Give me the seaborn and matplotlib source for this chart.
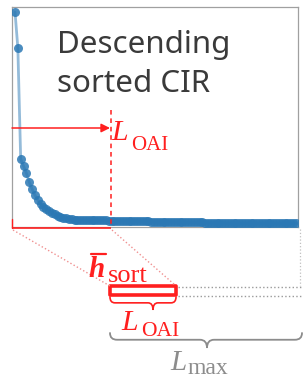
import numpy as np
import pandas as pd
import matplotlib
matplotlib.use("Agg")
import matplotlib.pyplot as plt
from matplotlib.path import Path
from matplotlib.patches import PathPatch, Rectangle
import seaborn as sns

# ---- data: descending sorted CIR magnitudes ----
tap_index = list(range(100))
cir_values = [
    0.977, 0.814, 0.309, 0.277, 0.245, 0.205, 0.173, 0.145, 0.123, 0.105,
    0.091, 0.082, 0.073, 0.064, 0.057, 0.050, 0.045, 0.041, 0.039, 0.036,
    0.035, 0.034, 0.034, 0.033, 0.033, 0.032, 0.032, 0.031, 0.031, 0.031,
    0.030, 0.030, 0.030, 0.029, 0.029, 0.029, 0.028, 0.028, 0.028, 0.028,
    0.027, 0.027, 0.027, 0.027, 0.026, 0.026, 0.026, 0.026, 0.025, 0.025,
    0.025, 0.025, 0.025, 0.024, 0.024, 0.024, 0.024, 0.023, 0.023, 0.023,
    0.022, 0.022, 0.022, 0.021, 0.021, 0.021, 0.021, 0.020, 0.020, 0.020,
    0.020, 0.019, 0.019, 0.019, 0.019, 0.018, 0.018, 0.018, 0.018, 0.018,
    0.017, 0.017, 0.017, 0.017, 0.017, 0.017, 0.017, 0.017, 0.017, 0.017,
    0.016, 0.016, 0.016, 0.016, 0.016, 0.016, 0.016, 0.016, 0.016, 0.016,
]
title_lines = ["Descending", "sorted CIR"]

df = pd.DataFrame({"tap": tap_index, "cir": cir_values})

sns.set_style("white")
plt.rcParams["font.family"] = ["Noto Sans", "DejaVu Sans"]

W, H = 303, 377
fig = plt.figure(figsize=(W / 100, H / 100), dpi=100)

# main chart axes (pixel box: x 12..298, y 7..227)
L, T, R, B = 12, 7, 298, 227
ax = fig.add_axes([L / W, 1 - B / H, (R - L) / W, (B - T) / H])
blue = "#2b78b4"
sns.lineplot(data=df, x="tap", y="cir", ax=ax, color=blue, lw=2.0, alpha=0.5)
sns.scatterplot(data=df, x="tap", y="cir", ax=ax, color=blue, s=42,
                linewidth=0, alpha=0.85, zorder=3)
ax.set_xlim(-1.06, 99.7)
ax.set_ylim(0, 1)
ax.set_xticks([]); ax.set_yticks([])
ax.set_xlabel(""); ax.set_ylabel("")
for sp in ax.spines.values():
    sp.set_visible(True)
    sp.set_color("#a0a0a0")
    sp.set_linewidth(0.9)

# overlay axes in pixel coordinates for the diagram annotations
ov = fig.add_axes([0, 0, 1, 1], zorder=5)
ov.set_xlim(0, W); ov.set_ylim(H, 0)
ov.axis("off")
ov.patch.set_alpha(0)

red = "#ff1f1f"
lred = "#f09090"
gray = "#8c8c8c"

# title text
ov.text(57, 53.5, title_lines[0], fontsize=22.5, color="#3a3a3a",
        family=["Noto Sans", "DejaVu Sans"], va="baseline", ha="left")
ov.text(57, 92.5, title_lines[1], fontsize=22.5, color="#3a3a3a",
        family=["Noto Sans", "DejaVu Sans"], va="baseline", ha="left")

# L_OAI marker inside chart
ov.plot([111, 111], [110, 227], color=red, lw=1.1, dashes=(3, 2.5))
ov.annotate("", xy=(110, 128), xytext=(12, 128),
            arrowprops=dict(arrowstyle="-|>", color=red, lw=1.1,
                            mutation_scale=13, shrinkA=0, shrinkB=0))
ov.text(111, 140, "L", fontsize=21.5, style="italic", color=red,
        family="Liberation Serif", va="baseline")
ov.text(131, 150, "OAI", fontsize=15, color=red,
        family="Liberation Serif", va="baseline")

# highlighted bottom segment
ov.plot([12, 111], [227.5, 227.5], color=red, lw=1.2, solid_capstyle="butt")
ov.plot([12, 12], [219, 228], color=red, lw=1.0)

# zoom guide lines
ov.plot([13, 110], [230, 286], color=lred, lw=1.0, ls=":")
ov.plot([112, 175], [230, 285], color=lred, lw=1.0, ls=":")

# truncated vector box
ov.add_patch(Rectangle((110, 285.5), 65.5, 9.5, fill=True, facecolor="white",
                       edgecolor=red, lw=2.6, joinstyle="round"))
ov.plot([178, 303], [286.5, 286.5], color="#9a9a9a", lw=1.0, ls=":")
ov.plot([178, 303], [295.5, 295.5], color="#9a9a9a", lw=1.0, ls=":")
ov.plot([300, 300], [229, 286], color="#c0c0c0", lw=0.9, ls=":")


def brace(axis, x0, x1, y0, h, tipx, r, color, lw):
    ym = y0 + h * 0.45
    verts = [(x0, y0), (x0, ym), (x0 + r, ym), (tipx - r, ym),
             (tipx, ym), (tipx, y0 + h), (tipx, ym), (tipx + r, ym),
             (x1 - r, ym), (x1, ym), (x1, y0)]
    codes = [Path.MOVETO, Path.CURVE3, Path.CURVE3, Path.LINETO,
             Path.CURVE3, Path.CURVE3, Path.CURVE3, Path.CURVE3,
             Path.LINETO, Path.CURVE3, Path.CURVE3]
    axis.add_patch(PathPatch(Path(verts, codes), fill=False,
                             edgecolor=color, lw=lw, capstyle="round"))


brace(ov, 110, 176, 297, 13, 153, 5, red, 1.2)
brace(ov, 110, 302, 333, 15, 207, 7, gray, 1.3)

# h_sort label
ov.text(88, 277, "h", fontsize=21, style="italic", weight="bold", color=red,
        family="Liberation Serif", va="baseline")
ov.plot([91, 106], [254, 254], color=red, lw=1.6)
ov.text(108, 282, "sort", fontsize=19, color=red,
        family="Liberation Serif", va="baseline")

# lower L_OAI label
ov.text(121, 330, "L", fontsize=21.5, style="italic", color=red,
        family="Liberation Serif", va="baseline")
ov.text(141, 336, "OAI", fontsize=15.5, color=red,
        family="Liberation Serif", va="baseline")

# L_max label
ov.text(170, 370, "L", fontsize=21, style="italic", color=gray,
        family="Liberation Serif", va="baseline")
ov.text(188, 373.5, "max", fontsize=17, color=gray,
        family="Liberation Serif", va="baseline")

fig.savefig("out.png", dpi=100)
